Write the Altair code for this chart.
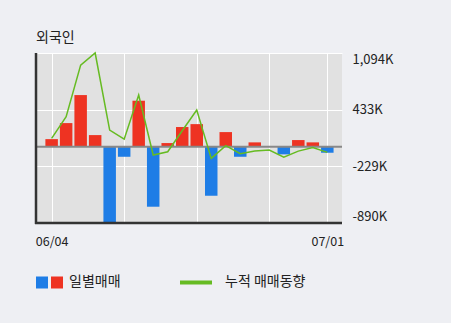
import altair as alt
import pandas as pd

# ---- data ----
dates = ["06/04", "06/05", "06/08", "06/09", "06/10", "06/11", "06/12", "06/15",
         "06/16", "06/17", "06/18", "06/19", "06/22", "06/23", "06/24", "06/25",
         "06/26", "06/29", "06/30", "07/01"]
daily = [89, 276, 603, 136, -890, -117, 537, -700, 43, 230, 264, -572, 171,
         -117, 51, 0, -89, 78, 51, -70]
cumulative = [97, 350, 953, 1094, 195, 89, 603, -97, -58, 187, 428, -136, 12,
              -82, -51, -39, -121, -51, -8, -66]
y_ticks = [-890, -228.667, 432.667, 1094]
x_grid = [0, 5, 10, 15, 19]

title_text = "외국인"
legend_bar = "일별매매"
legend_line = "누적 매매동향"

RED = "#ee3322"
BLUE = "#1e7de6"
GREEN = "#66bb22"
FONT = "Noto Sans CJK KR"

df = pd.DataFrame({"idx": list(range(len(dates))), "date": dates,
                   "daily": daily, "cum": cumulative})

W, H = 306, 170
xs = alt.Scale(domain=[-0.733, 19.667], nice=False, zero=False)
ys = alt.Scale(domain=[-890, 1094], nice=False, zero=False)

base = alt.Chart(df)

bars = base.mark_bar(size=12.5).encode(
    x=alt.X("idx:Q", scale=xs, axis=alt.Axis(
        values=x_grid, grid=True, gridColor="white", gridWidth=1,
        domain=False, ticks=False, labelPadding=12, labelFontSize=12.5,
        labelFont=FONT, labelColor="#222", title=None,
        labelExpr="datum.value == 0 ? '06/04' : (datum.value == 19 ? '07/01' : '')")),
    y=alt.Y("daily:Q", scale=ys, axis=alt.Axis(
        orient="right", values=y_ticks, grid=True, gridColor="white", gridWidth=1,
        domain=False, ticks=False, labelPadding=10, labelFontSize=13,
        labelFont=FONT, labelColor="#222", labelFlush=True, labelFlushOffset=0,
        title=None,
        labelExpr="(datum.value < 0 ? '-' : '') + format(abs(datum.value), ',.0f') + 'K'")),
    color=alt.condition(alt.datum.daily > 0, alt.value(RED), alt.value(BLUE)),
)

zero = alt.Chart(pd.DataFrame({"z": [0]})).mark_rule(color="#888888", strokeWidth=2).encode(
    y=alt.Y("z:Q", scale=ys)
)

line = base.mark_line(color=GREEN, strokeWidth=1.5).encode(
    x=alt.X("idx:Q", scale=xs),
    y=alt.Y("cum:Q", scale=ys),
)

left_axis = alt.Chart(pd.DataFrame({"a": [0]})).mark_rule(color="#333333", strokeWidth=2.5).encode(
    x=alt.value(0), y=alt.value(0), y2=alt.value(H + 1)
)
bottom_axis = alt.Chart(pd.DataFrame({"a": [0]})).mark_rule(color="#333333", strokeWidth=2.5).encode(
    x=alt.value(-1), x2=alt.value(W), y=alt.value(H)
)

title = alt.Chart(pd.DataFrame({"t": [title_text]})).mark_text(
    align="left", baseline="middle", font=FONT, fontSize=14, color="#222").encode(
    x=alt.value(0), y=alt.value(-15), text="t:N")

leg_blue = alt.Chart(pd.DataFrame({"a": [0]})).mark_rect(color=BLUE).encode(
    x=alt.value(0), x2=alt.value(12), y=alt.value(223.5), y2=alt.value(235.5))
leg_red = alt.Chart(pd.DataFrame({"a": [0]})).mark_rect(color=RED).encode(
    x=alt.value(15), x2=alt.value(27), y=alt.value(223.5), y2=alt.value(235.5))
leg_text1 = alt.Chart(pd.DataFrame({"t": [legend_bar]})).mark_text(
    align="left", baseline="middle", font=FONT, fontSize=14, color="#222").encode(
    x=alt.value(33), y=alt.value(229), text="t:N")
leg_line = alt.Chart(pd.DataFrame({"a": [0]})).mark_rule(color=GREEN, strokeWidth=4).encode(
    x=alt.value(144), x2=alt.value(176), y=alt.value(229.5))
leg_text2 = alt.Chart(pd.DataFrame({"t": [legend_line]})).mark_text(
    align="left", baseline="middle", font=FONT, fontSize=14, color="#222").encode(
    x=alt.value(189), y=alt.value(229), text="t:N")

chart = alt.layer(
    bars, zero, line, left_axis, bottom_axis, title,
    leg_blue, leg_red, leg_text1, leg_line, leg_text2
).properties(
    width=W, height=H,
    autosize=alt.AutoSizeParams(type="none"),
    padding={"left": 36, "top": 53, "right": 451 - 36 - W, "bottom": 323 - 53 - H},
    background="#eeeff3",
).configure_view(fill="#e1e1e1", stroke=None)

chart.save("out.html", embed_options={"renderer": "svg", "actions": False})
